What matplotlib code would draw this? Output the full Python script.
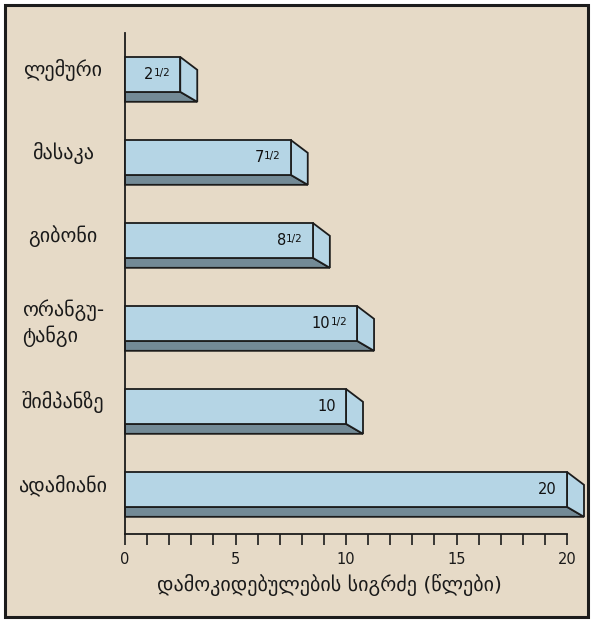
import matplotlib
matplotlib.use("Agg")
import matplotlib.pyplot as plt
from matplotlib.patches import Polygon, Rectangle
from matplotlib.ticker import MultipleLocator

# data
animals = ["ლემური", "მასაკა", "გიბონი", "ორანგუ-\nტანგი", "შიმპანზე", "ადამიანი"]
years = [2.5, 7.5, 8.5, 10.5, 10, 20]
whole_labels = ["2", "7", "8", "10", "10", "20"]
frac_labels = ["1/2", "1/2", "1/2", "1/2", "", ""]
xticks_major = [0, 5, 10, 15, 20]
xlabel = "დამოკიდებულების სიგრძე (წლები)"

bg = '#e6dac7'
light = '#b5d5e5'
dark = '#738a96'
edge = '#1c1c1c'

plt.rcParams['font.family'] = ['DejaVu Sans']

fig = plt.figure(figsize=(5.93, 6.22), dpi=100, facecolor='white')
fig.patches.append(Rectangle((5/593, 5/622), 583/593, 612/622, transform=fig.transFigure,
                             facecolor=bg, edgecolor=edge, linewidth=2.2, zorder=-5))

ax = fig.add_axes([125/593, 1 - 534/622, 442/593, 501/622])
ax.set_facecolor('none')

# bar geometry in data units (y: one category per unit = 83 px, inverted)
front_h = 0.42
bottom_h = 0.12
dx = 17 / 22.1
dy_top = 0.155

for i, v in enumerate(years):
    # bottom (dark) face
    ax.add_patch(Polygon([(0, i + front_h), (v, i + front_h), (v + dx, i + front_h + bottom_h),
                          (0, i + front_h + bottom_h)], closed=True, facecolor=dark,
                         edgecolor=edge, linewidth=1.3, clip_on=False, zorder=2))
    # right side face
    ax.add_patch(Polygon([(v, i), (v + dx, i + dy_top), (v + dx, i + front_h + bottom_h),
                          (v, i + front_h)], closed=True, facecolor=light,
                         edgecolor=edge, linewidth=1.3, clip_on=False, zorder=2))
    # front face
    ax.add_patch(Rectangle((0, i), v, front_h, facecolor=light, edgecolor=edge,
                           linewidth=1.3, clip_on=False, zorder=3))

ax.set_xlim(0, 20)
ax.set_ylim(5.747, -0.289)

# value labels (integer + small fraction)
renderer = fig.canvas.get_renderer()
for i, v in enumerate(years):
    yc = i + front_h / 2
    xr = v - 0.45
    shift = 0
    if frac_labels[i]:
        t = ax.text(xr, yc - 0.015, frac_labels[i], ha='right', va='center', fontsize=7.5,
                    color='#111111', zorder=5)
        shift = t.get_window_extent(renderer).width * 72 / fig.dpi
    ax.annotate(whole_labels[i], (xr, yc), xytext=(-shift, 0), textcoords='offset points',
                ha='right', va='center', fontsize=10.5, color='#111111', zorder=5)

# category labels
for i, name in enumerate(animals):
    yoff = 0.0 if '\n' in name else -0.05
    ax.text(-62/22.1, i + front_h / 2 + yoff, name, ha='center', va='center',
            multialignment='left', linespacing=1.3, fontsize=14.5, color='#1a1a1a',
            clip_on=False)

for s in ['top', 'right']:
    ax.spines[s].set_visible(False)
for s in ['left', 'bottom']:
    ax.spines[s].set_linewidth(1.3)
    ax.spines[s].set_color(edge)

ax.set_yticks([])
ax.set_xticks(xticks_major)
ax.xaxis.set_minor_locator(MultipleLocator(1))
ax.tick_params(axis='x', which='both', direction='out', length=8, width=1.2, color=edge,
               labelsize=10.5, labelcolor='#1a1a1a', pad=5)

fig.text(329/593, 1 - 585/622, xlabel, ha='center', va='center', fontsize=14.5, color='#1a1a1a')

fig.savefig('out.png', dpi=100, facecolor=fig.get_facecolor())
